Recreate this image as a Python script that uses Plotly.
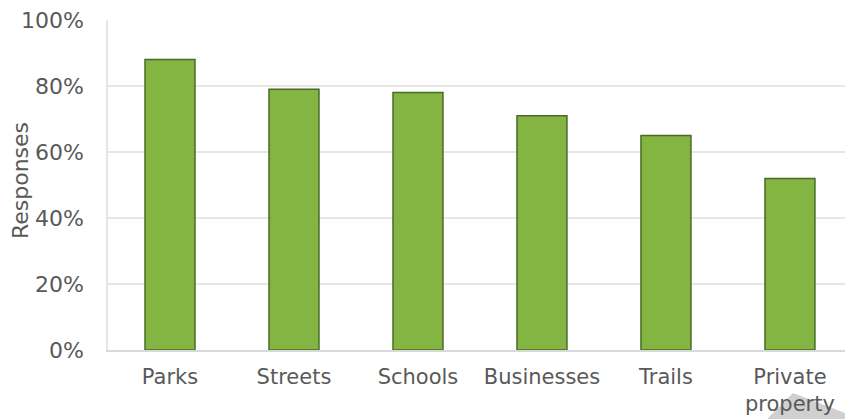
import plotly.graph_objects as go

# Survey results: where respondents want the program applied
categories = ["Parks", "Streets", "Schools", "Businesses", "Trails", "Private<br>property"]
responses = [0.88, 0.79, 0.78, 0.71, 0.65, 0.52]
tick_vals = [0, 0.2, 0.4, 0.6, 0.8, 1.0]
tick_text = ["0%", "20%", "40%", "60%", "80%", "100%"]

FONT = "DejaVu Sans"
TEXT_COLOR = "#595959"
FONT_SIZE = 21

fig = go.Figure(
    go.Bar(
        x=categories,
        y=responses,
        width=0.403,
        marker=dict(color="#84B442", line=dict(color="#4B6A26", width=1.5)),
        hoverinfo="x+y",
    )
)

fig.update_layout(
    width=845,
    height=419,
    margin=dict(l=108, r=0, t=20, b=69),
    paper_bgcolor="white",
    plot_bgcolor="white",
    showlegend=False,
    font=dict(family=FONT, size=FONT_SIZE, color=TEXT_COLOR),
    xaxis=dict(
        range=[-0.5, 5.444],
        showgrid=False,
        showline=True,
        linecolor="#D9D9D9",
        linewidth=1.5,
        ticks="",
        ticklabelstandoff=7,
        tickfont=dict(family=FONT, size=FONT_SIZE, color=TEXT_COLOR),
        fixedrange=True,
    ),
    yaxis=dict(
        range=[0, 1.0],
        tickvals=tick_vals,
        ticktext=tick_text,
        showgrid=True,
        gridcolor="#E6E6E6",
        gridwidth=1.5,
        showline=True,
        linecolor="#E6E6E6",
        linewidth=1.5,
        zeroline=False,
        ticks="",
        ticklabelstandoff=18,
        tickfont=dict(family=FONT, size=22, color=TEXT_COLOR),
        fixedrange=True,
    ),
    annotations=[
        dict(
            text="Responses",
            xref="paper",
            yref="paper",
            x=-0.1194,
            y=0.512,
            xanchor="center",
            yanchor="middle",
            textangle=-90,
            showarrow=False,
            font=dict(family=FONT, size=22, color=TEXT_COLOR),
        )
    ],
    shapes=[
        dict(
            type="path",
            xref="paper",
            yref="paper",
            path="M 0.9294 -0.1303 L 1 -0.1909 L 1 -0.2091 L 0.8942 -0.2091 Z",
            fillcolor="#D0D0D0",
            line=dict(width=0),
            layer="below",
        )
    ],
)

fig.write_html("out.html")
